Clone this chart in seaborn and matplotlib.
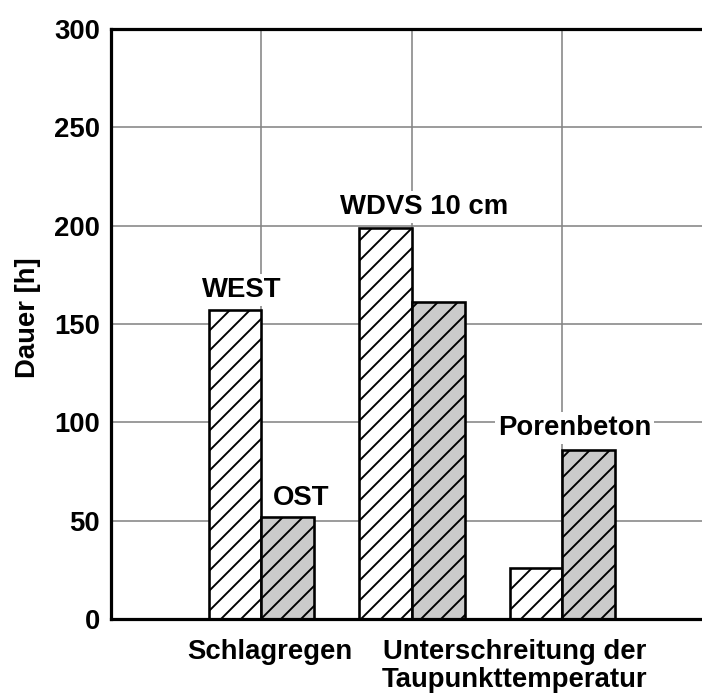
import matplotlib
matplotlib.use("Agg")
import matplotlib.pyplot as plt
import seaborn as sns
import pandas as pd

# ---- data ----
groups = ["Schlagregen", "WDVS 10 cm", "Porenbeton"]
series = ["WEST", "OST"]
west_values = [157, 199, 26]
ost_values = [52, 161, 86]
yticks = [0, 50, 100, 150, 200, 250, 300]
xtick_labels = ["Schlagregen", "Unterschreitung der\nTaupunkttemperatur"]
bar_labels = ["WEST", "OST", "WDVS 10 cm", "Porenbeton"]

df = pd.DataFrame({
    "group": groups * 2,
    "series": [series[0]] * 3 + [series[1]] * 3,
    "value": west_values + ost_values,
})

DPI = 120
def pt(px):
    return px * 72.0 / DPI

sns.set_theme(style="white")
plt.rcParams["font.family"] = ["Liberation Sans", "DejaVu Sans"]
plt.rcParams["font.weight"] = "bold"
plt.rcParams["text.color"] = "black"
plt.rcParams["xtick.color"] = "black"
plt.rcParams["ytick.color"] = "black"
plt.rcParams["axes.labelcolor"] = "black"
plt.rcParams["hatch.linewidth"] = pt(1.9)
plt.rcParams["hatch.color"] = "black"

FS = pt(27.5)

fig = plt.figure(figsize=(702 / DPI, 700 / DPI), dpi=DPI)
ax = fig.add_axes([111 / 702, 1 - 619 / 700, 1 - 111 / 702, (619 - 29) / 700])

sns.barplot(data=df, x="group", y="value", hue="series", order=groups,
            hue_order=series, palette=["white", "#cbcbcb"], width=0.7,
            edgecolor="black", linewidth=pt(2.6), hatch="//", saturation=1,
            legend=False, ax=ax, zorder=2)

ax.set_xlim(-1, 2.927)
ax.set_ylim(0, 300)
ax.set_yticks(yticks)
ax.set_yticklabels([str(t) for t in yticks], fontsize=FS, fontweight="bold")

# grid
for t in yticks[1:-1]:
    ax.axhline(t, color="#858585", lw=pt(1.6), zorder=0.5)
for xv in [0, 1, 2]:
    ax.axvline(xv, color="#858585", lw=pt(1.6), zorder=0.5)

ax.set_xticks([0.056, 1.68])
ax.set_xticklabels(xtick_labels, fontsize=FS, fontweight="bold", linespacing=1.12)
ax.tick_params(axis="x", length=0, pad=pt(20))
ax.tick_params(axis="y", length=0, pad=pt(11))

ax.set_xlabel("")
ax.set_ylabel("Dauer [h]", fontsize=FS, fontweight="bold")
ax.yaxis.set_label_coords((41 - 111) / 591, 0.51)

for side in ["left", "bottom", "top"]:
    ax.spines[side].set_visible(True)
    ax.spines[side].set_linewidth(pt(3.2))
    ax.spines[side].set_color("black")
ax.spines["right"].set_visible(False)

label_pos = [(-0.13, 163.7), (0.26, 58), (1.08, 206), (2.08, 93.5)]
for txt, (xx, yy) in zip(bar_labels, label_pos):
    ax.text(xx, yy, txt, ha="center", va="baseline", fontsize=FS,
            fontweight="bold", zorder=3,
            bbox=dict(facecolor="white", edgecolor="none", pad=pt(3)))

fig.savefig("out.png", dpi=DPI)
